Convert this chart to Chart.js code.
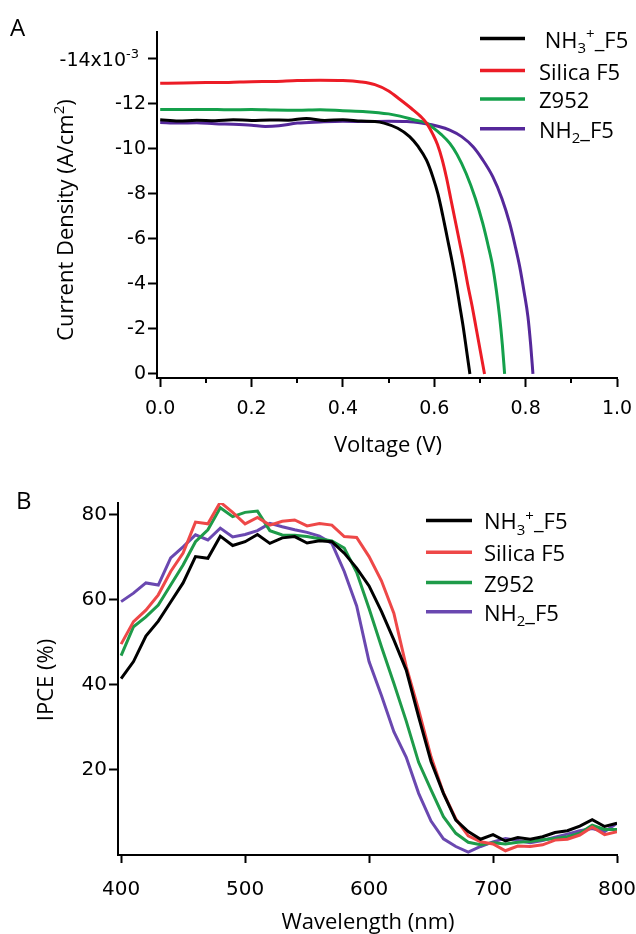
<!DOCTYPE html>
<html>
<head>
<meta charset="utf-8">
<script src="https://cdn.jsdelivr.net/npm/chart.js@4.4.1/dist/chart.umd.min.js"></script>
<style>
  html, body { margin: 0; padding: 0; background: #fff; }
  canvas { display: block; }
</style>
</head>
<body>
<canvas id="jv" width="636" height="460"></canvas>
<canvas id="ipce" width="636" height="474"></canvas>
<script>
/* ── Panel A: J-V curves (current density in 10^-3 A/cm2) ── */
const jvNames  = [' NH~3~^+^_F5', 'Silica F5', 'Z952', 'NH~2~_F5'];
const jvColors = ['#000000', '#ec1c26', '#14a04b', '#55289a'];

const vNH3 = [0, 0.04, 0.08, 0.12, 0.16, 0.2, 0.24, 0.28, 0.32, 0.36, 0.4, 0.44, 0.47, 0.49, 0.52, 0.546, 0.565, 0.583, 0.597, 0.608, 0.619, 0.629, 0.639, 0.648, 0.656, 0.664, 0.671, 0.678];
const jNH3 = [-11.30, -11.24, -11.28, -11.26, -11.30, -11.27, -11.29, -11.28, -11.36, -11.27, -11.30, -11.24, -11.22, -11.15, -10.92, -10.55, -10.1, -9.5, -8.75, -8.0, -7.0, -6.0, -5.0, -4.0, -3.0, -2.0, -1.0, 0];

const vSil = [0, 0.05, 0.1, 0.15, 0.2, 0.25, 0.3, 0.35, 0.4, 0.44, 0.47, 0.5, 0.525, 0.55, 0.57, 0.583, 0.597, 0.607, 0.617, 0.627, 0.636, 0.645, 0.655, 0.664, 0.673, 0.683, 0.692, 0.701, 0.71];
const jSil = [-12.92, -12.93, -12.95, -12.96, -12.99, -13.00, -13.04, -13.05, -13.04, -12.98, -12.86, -12.58, -12.2, -11.8, -11.45, -11.15, -10.65, -10.2, -9.55, -8.7, -7.8, -6.9, -5.9, -5.0, -4.0, -3.0, -2.0, -1.0, 0];

const vZ952 = [0, 0.05, 0.1, 0.15, 0.2, 0.25, 0.3, 0.35, 0.4, 0.45, 0.5, 0.525, 0.555, 0.583, 0.597, 0.615, 0.634, 0.65, 0.67, 0.69, 0.706, 0.718, 0.728, 0.736, 0.743, 0.749, 0.754];
const jZ952 = [-11.76, -11.75, -11.76, -11.74, -11.75, -11.73, -11.72, -11.74, -11.70, -11.66, -11.56, -11.46, -11.3, -11.15, -10.95, -10.65, -10.25, -9.75, -8.9, -7.8, -6.7, -5.7, -4.77, -3.7, -2.55, -1.3, 0];

const vNH2 = [0, 0.04, 0.08, 0.12, 0.16, 0.2, 0.23, 0.26, 0.3, 0.35, 0.4, 0.45, 0.5, 0.54, 0.575, 0.61, 0.634, 0.66, 0.685, 0.705, 0.728, 0.748, 0.765, 0.777, 0.787, 0.797, 0.805, 0.811, 0.816];
const jNH2 = [-11.18, -11.15, -11.17, -11.12, -11.10, -11.06, -11.00, -11.03, -11.15, -11.20, -11.23, -11.22, -11.23, -11.22, -11.14, -11.0, -10.84, -10.55, -10.1, -9.55, -8.77, -7.8, -6.7, -5.7, -4.77, -3.6, -2.55, -1.3, 0];

const xTicksJV      = [0, 0.2, 0.4, 0.6, 0.8, 1.0];
const xMinorTicksJV = [0.1, 0.3, 0.5, 0.7, 0.9];
const yTicksJV      = [-14, -12, -10, -8, -6, -4, -2, 0];

/* ── Panel B: IPCE spectra (%) ── */
const ipceNames  = ['NH~3~^+^_F5', 'Silica F5', 'Z952', 'NH~2~_F5'];
const ipceColors = ['#000000', '#ee4848', '#1e9b49', '#6a48b0'];

const wavelength = [400, 410, 420, 430, 440, 450, 460, 470, 480, 490, 500, 510, 520, 530, 540, 550, 560, 570, 580, 590, 600,
                    610, 620, 630, 640, 650, 660, 670, 680, 690, 700, 710, 720, 730, 740, 750, 760, 770, 780, 790, 800];
const ipceNH3  = [41.5, 45.5, 51.5, 55, 59.5, 64, 70.2, 69.8, 75, 72.8, 73.7, 75.4, 73.3, 74.6, 74.9, 73.4, 73.9, 73.7, 71, 67.5, 63.3,
                  57.3, 50.6, 43.5, 32.5, 22, 14.5, 8.2, 5.5, 3.7, 4.8, 3.3, 4.1, 3.7, 4.3, 5.3, 5.7, 6.8, 8.3, 6.7, 7.5];
const ipceSil  = [49.6, 54.9, 57.6, 61.2, 66.7, 71, 78.3, 77.9, 83, 80.6, 77.9, 79.4, 77.6, 78.5, 78.8, 77.4, 78, 77.6, 74.9, 74.7, 70.2,
                  64.5, 56.9, 44.3, 34.1, 23.1, 14.6, 8.5, 4.5, 3.1, 2.6, 1.0, 2.1, 2.0, 2.4, 3.5, 3.7, 4.7, 6.6, 4.8, 5.5];
const ipceZ952 = [46.9, 53.7, 56, 58.8, 63.5, 68.2, 73.7, 76.5, 81.7, 79.6, 80.6, 80.9, 76.3, 75.3, 75.2, 74.9, 74.4, 73.9, 72.2, 66.5, 58,
                  49, 40.4, 31.5, 21.8, 15.3, 9, 5.1, 3, 2.4, 2.9, 2.6, 3, 3.2, 3.6, 3.9, 4.3, 5.1, 7, 6, 6];
const ipceNH2  = [59.6, 61.6, 64, 63.5, 69.9, 72.5, 75.3, 74.1, 76.9, 74.8, 75.4, 76.3, 78, 77.2, 76.5, 75.9, 75, 73.3, 66.7, 58.6, 45.5,
                  37.5, 29, 23, 14.5, 8, 3.8, 2, 0.7, 2, 3.1, 3.9, 3.4, 2.9, 3.4, 4.2, 4.9, 5.7, 6.2, 5.5, 7.5];

const xTicksIPCE = [400, 500, 600, 700, 800];
const yTicksIPCE = [20, 40, 60, 80];

const TICK_FONT  = "'DejaVu Sans', sans-serif";
const LABEL_FONT = "'Open Sans', sans-serif";

/* ── tiny markup: ~sub~ and ^sup^ ── */
function parseRich(s) {
  const out = [];
  const re = /~([^~]*)~|\^([^^]*)\^|([^~^]+)/g;
  let m;
  while ((m = re.exec(s))) {
    if (m[1] !== undefined) out.push({ t: m[1], m: -1 });
    else if (m[2] !== undefined) out.push({ t: m[2], m: 1 });
    else out.push({ t: m[3], m: 0 });
  }
  return out;
}

// y is the visual middle of capitals
function drawRich(ctx, str, x, y, size, align, family = LABEL_FONT) {
  const parts = parseRich(str);
  const small = Math.round(size * 0.68);
  const fontOf = p => `${p.m ? small : size}px ${family}`;
  const widths = parts.map(p => { ctx.font = fontOf(p); return ctx.measureText(p.t).width; });
  const total = widths.reduce((a, b) => a + b, 0);
  let cx = align === 'center' ? x - total / 2 : align === 'right' ? x - total : x;
  const base = y + size * 0.36;
  ctx.textAlign = 'left';
  ctx.textBaseline = 'alphabetic';
  parts.forEach((p, i) => {
    ctx.font = fontOf(p);
    const dy = p.m === -1 ? size * 0.24 : p.m === 1 ? -size * 0.40 : 0;
    ctx.fillText(p.t, cx, base + dy);
    cx += widths[i];
  });
}

/* ── plugin: panel letter, axis titles, legend, minor ticks ── */
const figurePlugin = {
  id: 'figure',
  afterDraw(chart, args, o) {
    const ctx = chart.ctx;
    ctx.save();
    ctx.fillStyle = '#000';

    drawRich(ctx, o.letter.text, o.letter.x, o.letter.y, 24, 'left');
    drawRich(ctx, o.xTitle.text, o.xTitle.x, o.xTitle.y, 22, 'center');

    ctx.save();
    ctx.translate(o.yTitle.x, o.yTitle.y);
    ctx.rotate(-Math.PI / 2);
    drawRich(ctx, o.yTitle.text, 0, 0, 22, 'center');
    ctx.restore();

    // tick labels with exponents
    (o.tickTexts || []).forEach(t => {
      const py = chart.scales.y.getPixelForValue(t.value);
      drawRich(ctx, t.text, t.right, py, t.size, 'right', TICK_FONT);
    });

    const lg = o.legend;
    chart.data.datasets.forEach((ds, i) => {
      const y = lg.ys[i];
      ctx.strokeStyle = ds.borderColor;
      ctx.lineWidth = 3.5;
      ctx.beginPath();
      ctx.moveTo(lg.x1, y);
      ctx.lineTo(lg.x2, y);
      ctx.stroke();
      ctx.fillStyle = '#000';
      drawRich(ctx, lg.names[i], lg.tx, y + 1, 22, 'left');
    });

    if (o.minorTicks) {
      const xs = chart.scales.x;
      const bottom = chart.chartArea.bottom;
      ctx.strokeStyle = '#000';
      ctx.lineWidth = 2;
      o.minorTicks.forEach(v => {
        const px = Math.round(xs.getPixelForValue(v));
        ctx.beginPath();
        ctx.moveTo(px, bottom);
        ctx.lineTo(px, bottom + 5);
        ctx.stroke();
      });
    }
    ctx.restore();
  }
};

function axis(opts) {
  return {
    type: 'linear',
    min: opts.min,
    max: opts.max,
    reverse: !!opts.reverse,
    afterBuildTicks: s => { s.ticks = opts.ticks.map(v => ({ value: v })); },
    afterFit: s => {
      if (opts.width) s.width = opts.width;
      if (opts.height) s.height = opts.height;
      // keep the plot box fixed: no extra room for overhanging labels
      s.paddingLeft = s.paddingRight = s.paddingTop = s.paddingBottom = 0;
    },
    grid: { drawOnChartArea: false, drawTicks: true, tickLength: opts.tickLength, tickColor: '#000', tickWidth: 2 },
    border: { display: true, color: '#000', width: 2 },
    ticks: {
      color: '#000',
      font: { family: TICK_FONT, size: opts.fontSize },
      padding: opts.padding,
      autoSkip: false,
      maxRotation: 0,
      callback: opts.label,
    },
  };
}

function lineSet(xs, ys, color, smooth) {
  return {
    data: xs.map((x, i) => ({ x, y: ys[i] })),
    borderColor: color,
    borderWidth: 3,
    pointRadius: 0,
    fill: false,
    tension: 0,
    cubicInterpolationMode: smooth ? 'monotone' : 'default',
  };
}

new Chart(document.getElementById('jv'), {
  type: 'line',
  data: {
    datasets: [
      lineSet(vNH3, jNH3, jvColors[0], true),
      lineSet(vSil, jSil, jvColors[1], true),
      lineSet(vZ952, jZ952, jvColors[2], true),
      lineSet(vNH2, jNH2, jvColors[3], true),
    ],
  },
  options: {
    responsive: false,
    animation: false,
    layout: { padding: { top: 32, right: 19, left: 0, bottom: 0 } },
    plugins: {
      legend: { display: false },
      tooltip: { enabled: false },
      figure: {
        letter: { text: 'A', x: 10, y: 27 },
        xTitle: { text: 'Voltage (V)', x: 388, y: 444 },
        yTitle: { text: 'Current Density (A/cm^2^)', x: 65, y: 220 },
        tickTexts: [{ value: -14, text: '-14x10^-3^', right: 139, size: 19 }],
        legend: { names: jvNames, x1: 480, x2: 525, tx: 539, ys: [38.6, 70.6, 99, 128.7] },
        minorTicks: xMinorTicksJV,
      },
    },
    scales: {
      x: axis({ min: -0.007, max: 1.0, ticks: xTicksJV, height: 82, tickLength: 9, fontSize: 19, padding: 11,
                label: v => v.toFixed(1) }),
      y: axis({ min: -15.2, max: 0.18, reverse: true, ticks: yTicksJV, width: 157, tickLength: 9, fontSize: 19, padding: 2,
                label: v => (v === -14 ? '' : String(v)) }),
    },
  },
  plugins: [figurePlugin],
});

new Chart(document.getElementById('ipce'), {
  type: 'line',
  data: {
    datasets: [
      lineSet(wavelength, ipceNH3, ipceColors[0], false),
      lineSet(wavelength, ipceSil, ipceColors[1], false),
      lineSet(wavelength, ipceZ952, ipceColors[2], false),
      lineSet(wavelength, ipceNH2, ipceColors[3], false),
    ],
  },
  options: {
    responsive: false,
    animation: false,
    layout: { padding: { top: 43, right: 19, left: 0, bottom: 0 } },
    plugins: {
      legend: { display: false },
      tooltip: { enabled: false },
      figure: {
        letter: { text: 'B', x: 16, y: 40 },
        xTitle: { text: 'Wavelength (nm)', x: 368, y: 461 },
        yTitle: { text: 'IPCE (%)', x: 45, y: 220 },
        legend: { names: ipceNames, x1: 426, x2: 472, tx: 484, ys: [60.4, 92.3, 122.6, 151.8] },
      },
    },
    scales: {
      x: axis({ min: 397.5, max: 800, ticks: xTicksIPCE, height: 79, tickLength: 8, fontSize: 20, padding: 15,
                label: v => String(v) }),
      y: axis({ min: 0, max: 82.8, ticks: yTicksIPCE, width: 118, tickLength: 9, fontSize: 20, padding: 2,
                label: v => String(v) }),
    },
  },
  plugins: [figurePlugin],
});
</script>
</body>
</html>
